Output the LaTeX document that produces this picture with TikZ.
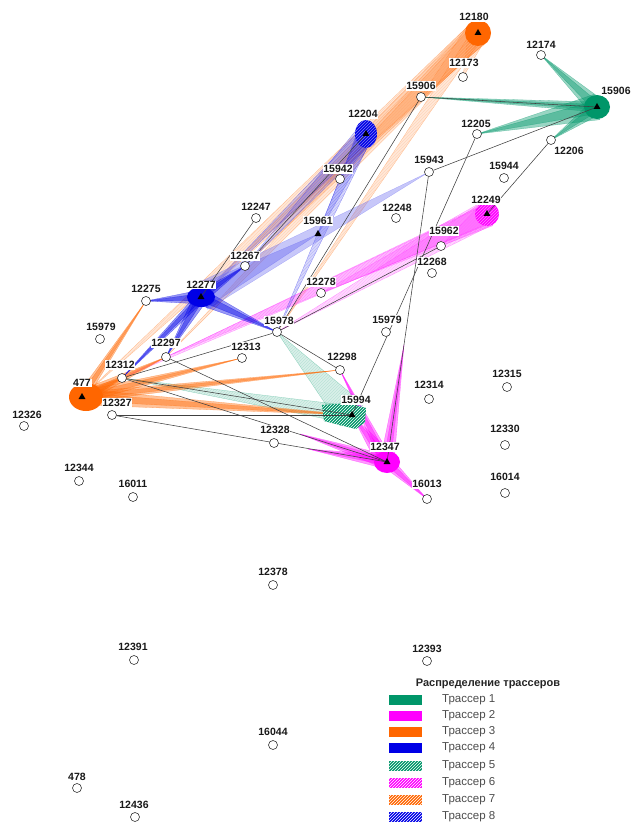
\documentclass[tikz,border=0pt]{standalone}
\usepackage{fontspec}
\setmainfont{Liberation Sans}
\usetikzlibrary{calc,patterns,shapes.geometric}
\pgfdeclarelayer{fanlayer}
\pgfdeclarelayer{linelayer}
\pgfsetlayers{fanlayer,linelayer,main}
\definecolor{tgreen}{RGB}{0,150,105}
\definecolor{tmag}{RGB}{255,0,255}
\definecolor{torange}{RGB}{255,102,0}
\definecolor{tblue}{RGB}{0,0,230}
\newcommand\tfan[4]{\path[#1] ($(#2.center)!#4pt!90:(#3.center)$) -- (#3.center) -- ($(#2.center)!#4pt!-90:(#3.center)$) -- cycle;}
\newcommand\dfan[4]{\pgfmathsetmacro\halfw{#4*0.5}\tfan{#1}{#2}{#3}{#4}\tfan{#1}{#2}{#3}{\halfw}}
\begin{document}
\begin{tikzpicture}[x=1pt,y=-1pt,
  well/.style={circle, draw=black!80, fill=white, line width=0.6pt, minimum size=9pt, inner sep=0pt},
  inj/.style={regular polygon, regular polygon sides=3, fill=black, minimum size=8pt, inner sep=0pt},
  lbl/.style={font=\bfseries\fontsize{10.5}{12}\selectfont, text=black!90, fill=white, inner sep=0.8pt},
  conn/.style={draw=black!75, line width=0.55pt},
  solidfan/.style={fill=#1, fill opacity=0.4, draw=#1, draw opacity=0.5, line width=0.3pt},
  hatchfan/.style={fill=#1, fill opacity=0.15, draw=#1, draw opacity=0.4, line width=0.3pt,
     postaction={draw=none, pattern=north east lines, pattern color=#1!45!white}},
  swatch/.style={minimum width=33pt, minimum height=10pt, inner sep=0pt, fill=#1},
  hswatch/.style={minimum width=33pt, minimum height=10pt, inner sep=0pt, fill=#1,
     postaction={pattern=north east lines, pattern color=white}},
  lgtext/.style={font=\fontsize{11.5}{13}\selectfont, text=black!70, anchor=west, inner sep=0pt},
  lgtitle/.style={font=\bfseries\fontsize{11}{13}\selectfont, text=black!85, inner sep=0pt}
]
\useasboundingbox (0,0) rectangle (631,826);

% ---------- wells ----------
\foreach \n/\p in {12174/{(541,55)},12173/{(463,77)},15906/{(421,97)},12205/{(477,134)},
  12206/{(551,140)},15943/{(429,172)},15944/{(504,178)},15942/{(340,179)},12247/{(256,218)},
  12248/{(396,218)},15962/{(441,246)},12267/{(245,266)},12268/{(432,273)},12275/{(146,301)},
  12278/{(321,293)},15978/{(277,332)},15979a/{(100,339)},15979b/{(386,332)},12297/{(166,357)},
  12313/{(242,358)},12312/{(122,378)},12298/{(340,370)},12315/{(507,387)},12314/{(429,399)},
  12327/{(112,415)},12326/{(24,426)},12328/{(274,443)},12330/{(505,445)},12344/{(79,481)},
  16011/{(133,497)},16013/{(427,499)},16014/{(505,493)},12378/{(273,585)},12391/{(134,660)},
  12393/{(427,661)},16044/{(273,745)},478/{(77,788)},12436/{(135,817)}}
  \node[well] (w\n) at \p {};

% ---------- injection wells ----------
\foreach \n/\p in {12180/{(478,33)},15906/{(597,107)},12204/{(366,134)},12249/{(487,214)},
  15961/{(318,234)},12277/{(201,297)},477/{(82,397)},15994/{(352,415)},12347/{(387,462)}}
  \node[inj] (i\n) at \p {};

\coordinate (c2up) at (404,345);
\coordinate (c2left) at (300,434);
\coordinate (c2left2) at (308,449);

% ---------- labels ----------
\foreach \n/\t/\p in {12180/12180/{(474,17)},12174/12174/{(541,45)},12173/12173/{(464,63)},
  15906/15906/{(421,86)},15906r/15906/{(616,91)},12204/12204/{(363,114)},12205/12205/{(476,124)},
  12206/12206/{(569,151)},15943/15943/{(429,160)},15944/15944/{(504,166)},15942/15942/{(338,169)},
  12249/12249/{(486,200)},12247/12247/{(256,207)},12248/12248/{(397,208)},15961/15961/{(318,221)},
  15962/15962/{(444,231)},12267/12267/{(245,256)},12268/12268/{(432,262)},12277/12277/{(201,285)},
  12275/12275/{(146,289)},12278/12278/{(321,282)},15978/15978/{(279,321)},15979a/15979/{(101,327)},
  15979b/15979/{(387,320)},12297/12297/{(166,343)},12313/12313/{(246,347)},12312/12312/{(120,365)},
  477/477/{(82,383)},12298/12298/{(342,357)},12315/12315/{(507,374)},12314/12314/{(429,385)},
  12327/12327/{(117,403)},15994/15994/{(356,400)},12326/12326/{(27,415)},12328/12328/{(275,430)},
  12330/12330/{(505,429)},12347/12347/{(385,447)},12344/12344/{(79,468)},16011/16011/{(133,484)},
  16013/16013/{(427,484)},16014/16014/{(505,477)},12378/12378/{(273,572)},12391/12391/{(133,647)},
  12393/12393/{(427,649)},16044/16044/{(273,732)},478/478/{(77,777)},12436/12436/{(134,805)}}
  \node[lbl] (l\n) at \p {\t};

% ---------- tracer fans ----------
\begin{pgfonlayer}{fanlayer}
% tracer 7 (orange hatched) from 12180
\tfan{hatchfan=torange}{i12180}{w12173}{10}
\tfan{hatchfan=torange}{i12180}{w15906}{13}
\tfan{hatchfan=torange}{i12180}{w12267}{11}
\tfan{hatchfan=torange}{i12180}{i12277}{12}
\tfan{hatchfan=torange}{i12180}{w12297}{9}
\tfan{hatchfan=torange}{i12180}{i477}{12}
\tfan{hatchfan=torange}{i12180}{w15978}{6}
% tracer 6 (magenta hatched) from 12249
\tfan{hatchfan=tmag}{i12249}{w15962}{12}
\tfan{hatchfan=tmag}{i12249}{w12278}{13}
\tfan{hatchfan=tmag}{i12249}{w15978}{12}
\tfan{hatchfan=tmag}{i12249}{w12297}{10}
\tfan{hatchfan=tmag}{i12249}{w12312}{9}
% tracer 8 (blue hatched) from 12204
\tfan{hatchfan=tblue}{i12204}{w15942}{9}
\tfan{hatchfan=tblue}{i12204}{i15961}{8}
\tfan{hatchfan=tblue}{i12204}{w15978}{7}
\tfan{hatchfan=tblue}{i12204}{w12267}{10}
\tfan{hatchfan=tblue}{i12204}{i12277}{7}
% tracer 5 (green hatched) from 15994
\tfan{hatchfan=tgreen}{i15994}{w15978}{16}
\tfan{hatchfan=tgreen}{i15994}{w12312}{9}
% tracer 1 (green) from 15906
\dfan{solidfan=tgreen}{i15906}{w12174}{9}
\dfan{solidfan=tgreen}{i15906}{w15906}{5}
\dfan{solidfan=tgreen}{i15906}{w12205}{13}
\dfan{solidfan=tgreen}{i15906}{w12206}{8}
% tracer 3 (orange) from 477
\dfan{solidfan=torange}{i477}{w12275}{5}
\dfan{solidfan=torange}{i477}{w12297}{7}
\dfan{solidfan=torange}{i477}{w12298}{5}
\dfan{solidfan=torange}{i477}{i15994}{8}
\dfan{solidfan=torange}{i477}{w12312}{7}
\dfan{solidfan=torange}{i477}{w12313}{6}
% tracer 4 (blue) from 12277
\tfan{solidfan=tblue!55}{i12277}{w15943}{14}
\tfan{solidfan=tblue!60}{i12277}{i15961}{12}
\dfan{solidfan=tblue}{i12277}{w12275}{7}
\dfan{solidfan=tblue}{i12277}{w15978}{8}
\dfan{solidfan=tblue}{i12277}{w12297}{7}
\dfan{solidfan=tblue}{i12277}{w12312}{5}
\dfan{solidfan=tblue}{i12277}{w12267}{6}
% tracer 2 (magenta) from 12347
\dfan{solidfan=tmag}{i12347}{w16013}{6}
\dfan{solidfan=tmag}{i12347}{i15994}{10}
\dfan{solidfan=tmag}{i12347}{w12298}{6}
\dfan{solidfan=tmag}{i12347}{c2up}{7}
\dfan{solidfan=tmag}{i12347}{c2left}{7}
\dfan{solidfan=tmag}{i12347}{c2left2}{7}
% blobs
\fill[tgreen] (i15906.center) ellipse [x radius=13pt, y radius=12pt];
\fill[torange] (i12180.center) circle [radius=13pt];
\path[fill=tblue, postaction={pattern=north east lines, pattern color=tblue!50!white}]
  (i12204.center) ellipse [x radius=11pt, y radius=14pt];
\path[fill=tmag, postaction={pattern=north east lines, pattern color=tmag!50!white}]
  (i12249.center) circle [radius=12pt];
\fill[tblue] (i12277.center) ellipse [x radius=14pt, y radius=10pt];
\fill[torange] ([xshift=4pt]i477.center) ellipse [x radius=17pt, y radius=14pt];
\fill[tmag] (i12347.center) ellipse [x radius=13pt, y radius=11pt];
\path[fill=tgreen, postaction={pattern=north east lines, pattern color=white}]
  ($(i15994.center)+(-30,-10)$) -- ++(26,-2) -- ++(18,5) -- ++(-1,14) -- ++(-9,7) -- ++(-32,-8) -- cycle;
\end{pgfonlayer}

% ---------- connections ----------
\begin{pgfonlayer}{linelayer}
\draw[conn] (w15906) -- (i15906);
\draw[conn] (w15943) -- (i15906);
\draw[conn] (w12206) -- (i12249);
\draw[conn] (w12205) -- (i15994);
\draw[conn] (w15943) -- (i12347);
\draw[conn] (w12247) -- (i12277);
\draw[conn] (w15978) -- (w12298);
\draw[conn] (w15978) -- (w15962);
\draw[conn] (w12297) -- (i12347);
\draw[conn] (w12312) -- (i15994);
\draw[conn] (w12312) -- (i12347);
\draw[conn] (w12327) -- (i15994);
\draw[conn] (w12327) -- (i12347);
\draw[conn] (w12312) -- (w15978);
\draw[conn] (w12267) -- (i12204);
\draw[conn] (w15906) -- (w15978);
\end{pgfonlayer}

% ---------- legend ----------
\node[lgtitle] (lgt) at (488,684) {Распределение трассеров};
\node[swatch=tgreen] (s1) at (405.5,700) {};
\node[swatch=tmag] (s2) at (405.5,716) {};
\node[swatch=torange] (s3) at (405.5,732) {};
\node[swatch=tblue] (s4) at (405.5,748) {};
\node[hswatch=tgreen] (s5) at (405.5,766) {};
\node[hswatch=tmag] (s6) at (405.5,783) {};
\node[hswatch=torange] (s7) at (405.5,800) {};
\node[hswatch=tblue] (s8) at (405.5,817) {};
\node[lgtext] (t1) at (442,700) {Трассер 1};
\node[lgtext] (t2) at (442,716) {Трассер 2};
\node[lgtext] (t3) at (442,732) {Трассер 3};
\node[lgtext] (t4) at (442,748) {Трассер 4};
\node[lgtext] (t5) at (442,766) {Трассер 5};
\node[lgtext] (t6) at (442,783) {Трассер 6};
\node[lgtext] (t7) at (442,800) {Трассер 7};
\node[lgtext] (t8) at (442,817) {Трассер 8};
\end{tikzpicture}
\end{document}
